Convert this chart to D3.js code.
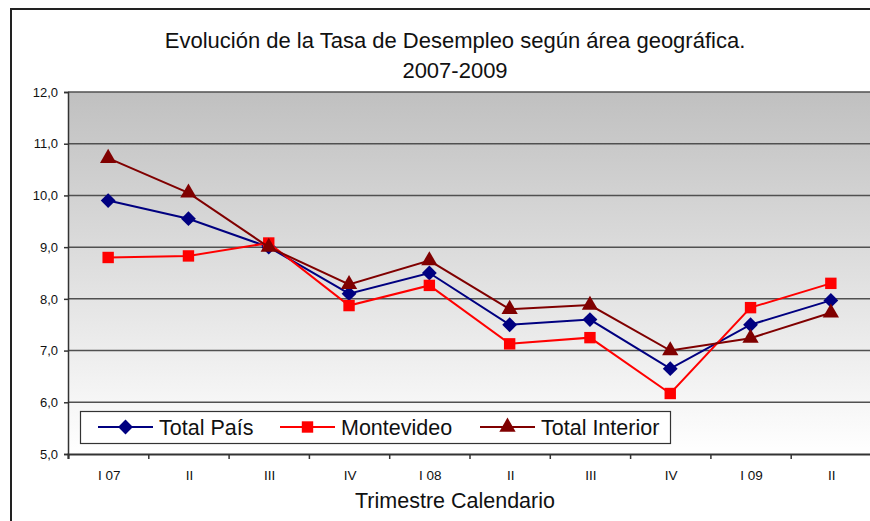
<!DOCTYPE html>
<html><head><meta charset="utf-8">
<script src="https://cdn.jsdelivr.net/npm/d3@7"></script>
<style>body{margin:0;background:#fff}svg{display:block;font-family:"Liberation Sans",Arial,sans-serif}</style>
</head><body>
<svg id="c" width="870" height="521"></svg>
<script>
const categories = ["I 07","II","III","IV","I 08","II","III","IV","I 09","II"];
const totalPais = [9.9, 9.55, 9.0, 8.1, 8.5, 7.5, 7.6, 6.65, 7.5, 7.97];
const montevideo = [8.8, 8.83, 9.08, 7.87, 8.26, 7.13, 7.25, 6.17, 7.83, 8.3];
const totalInterior = [10.72, 10.05, 9.0, 8.28, 8.74, 7.8, 7.88, 7.0, 7.24, 7.73];
const yTicks = [5,6,7,8,9,10,11,12];
const titleLines = ["Evolución de la Tasa de Desempleo según área geográfica.", "2007-2009"];
const xTitle = "Trimestre Calendario";
const seriesNames = ["Total País","Montevideo","Total Interior"];

const series = [
  {name: seriesNames[0], values: totalPais, color: "#000080", sym: "diamond"},
  {name: seriesNames[1], values: montevideo, color: "#ff0000", sym: "square"},
  {name: seriesNames[2], values: totalInterior, color: "#800000", sym: "triangle"}
];

const svg = d3.select("#c");
const L = 68, R = 871, T = 92, B = 454;

// outer frame
svg.append("path").attr("d", "M11,530 V9 H875").attr("fill","none").attr("stroke","#222").attr("stroke-width",2);

const x = d3.scaleBand().domain(d3.range(categories.length)).range([L, R]);
const y = d3.scaleLinear().domain([5, 12]).range([B, T]);

const defs = svg.append("defs");
const g = defs.append("linearGradient").attr("id","bg").attr("x1",0).attr("y1",0).attr("x2",0).attr("y2",1);
g.append("stop").attr("offset","0%").attr("stop-color","#c0c0c0");
g.append("stop").attr("offset","100%").attr("stop-color","#ffffff");

svg.append("rect").attr("x",L).attr("y",T).attr("width",R-L+5).attr("height",B-T).attr("fill","url(#bg)");

// gridlines
svg.append("g").selectAll("line").data(yTicks.filter(d=>d>5)).join("line")
  .attr("x1",L).attr("x2",875).attr("y1",d=>y(d)).attr("y2",d=>y(d))
  .attr("stroke","#505050").attr("stroke-width",1.5);

// y axis
const ya = svg.append("g").attr("transform",`translate(${L},0)`)
  .call(d3.axisLeft(y).tickValues(yTicks).tickSize(4).tickPadding(6).tickFormat(d=>d3.format(".1f")(d).replace(".",",")));
ya.select(".domain").attr("stroke","#333").attr("stroke-width",1.5);
ya.selectAll(".tick line").attr("stroke","#333").attr("stroke-width",1.5);
ya.selectAll("text").attr("font-size",13).attr("fill","#111").attr("font-family","Liberation Sans, Arial, sans-serif");

// x axis
const xb = d3.scaleLinear().domain([0, categories.length]).range([L, R]);
const xa = svg.append("g").attr("transform",`translate(0,${B})`)
  .call(d3.axisBottom(xb).tickValues(d3.range(categories.length+1)).tickSize(5).tickFormat(""));
xa.select(".domain").attr("stroke","#333").attr("stroke-width",2);
xa.selectAll(".tick line").attr("stroke","#333").attr("stroke-width",1.5);
svg.append("g").selectAll("text").data(categories).join("text")
  .attr("x",(d,i)=>x(i)+x.bandwidth()/2+1).attr("y",480)
  .attr("text-anchor","middle").attr("font-size",13.5).attr("fill","#111").text(d=>d);

// lines and markers
const line = d3.line().x((d,i)=>x(i)+x.bandwidth()/2).y(d=>y(d));
const symbolRhombus = {draw(ctx, size){ const r = Math.sqrt(size/2); ctx.moveTo(0,-r); ctx.lineTo(r,0); ctx.lineTo(0,r); ctx.lineTo(-r,0); ctx.closePath(); }};
const symMap = {diamond: symbolRhombus, square: d3.symbolSquare, triangle: d3.symbolTriangle};
const symSize = {diamond: 110, square: 130, triangle: 115};
series.forEach(s=>{
  svg.append("path").attr("d", line(s.values)).attr("fill","none").attr("stroke",s.color).attr("stroke-width",2);
  svg.append("g").selectAll("path").data(s.values).join("path")
    .attr("transform",(d,i)=>`translate(${x(i)+x.bandwidth()/2},${y(d)})`)
    .attr("d", d3.symbol().type(symMap[s.sym]).size(symSize[s.sym])())
    .attr("fill",s.color);
});

// legend
svg.append("rect").attr("x",80.5).attr("y",411.5).attr("width",590).attr("height",32)
  .attr("fill","#fff").attr("stroke","#333").attr("stroke-width",1.2);
const legX = [98, 280, 480];
series.forEach((s,i)=>{
  const lg = svg.append("g").attr("transform",`translate(${legX[i]},427)`);
  lg.append("line").attr("x1",0).attr("x2",55).attr("y1",0).attr("y2",0).attr("stroke",s.color).attr("stroke-width",2);
  lg.append("path").attr("transform","translate(27.5,0)").attr("d", d3.symbol().type(symMap[s.sym]).size(symSize[s.sym])()).attr("fill",s.color);
  lg.append("text").attr("x",61).attr("y",7.5).attr("font-size",21.5).attr("fill","#111").text(s.name);
});

// titles
svg.append("text").attr("x",455).attr("y",48).attr("text-anchor","middle").attr("font-size",22).attr("fill","#111").text(titleLines[0]);
svg.append("text").attr("x",455).attr("y",78).attr("text-anchor","middle").attr("font-size",22).attr("fill","#111").text(titleLines[1]);
svg.append("text").attr("x",455).attr("y",508).attr("text-anchor","middle").attr("font-size",21.5).attr("fill","#111").text(xTitle);
</script>
</body></html>
